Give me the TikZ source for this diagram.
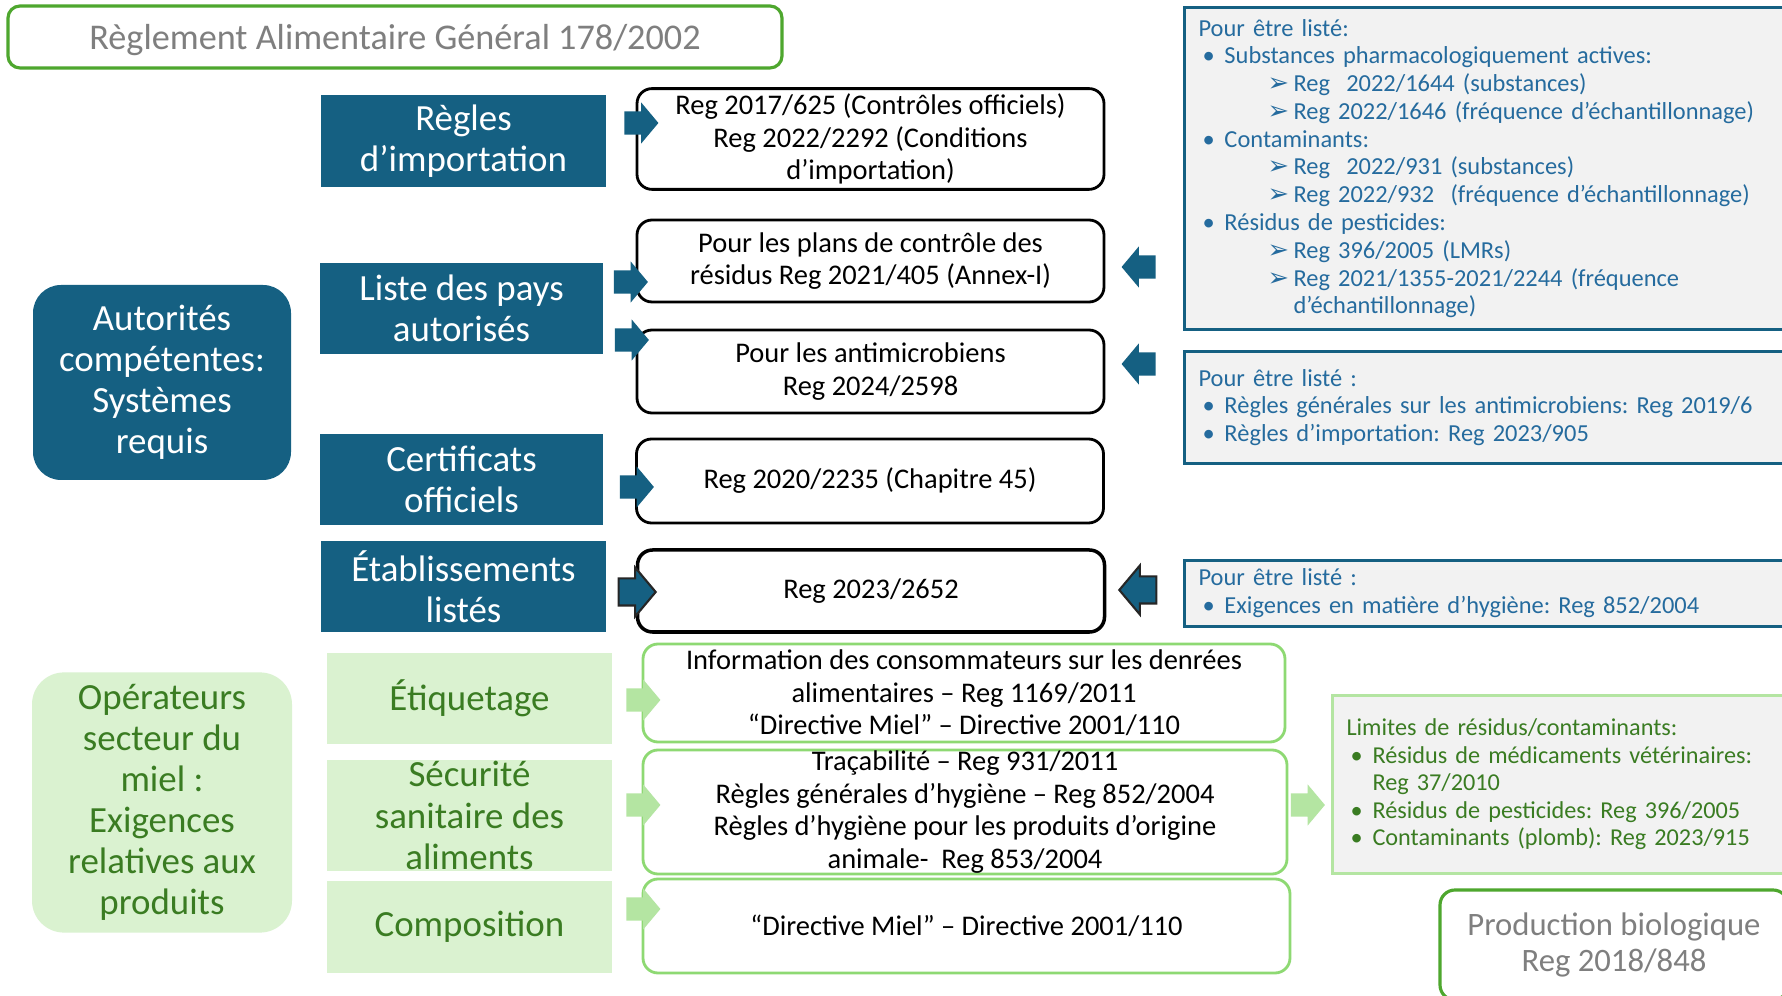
\documentclass[tikz,border=0pt]{standalone}
\usepackage{fontspec}
\setmainfont{Carlito}
\newfontfamily\symbfont{DejaVu Sans}
\usetikzlibrary{shapes.arrows}
\frenchspacing

\definecolor{bleufonce}{HTML}{156082}
\definecolor{bleutexte}{HTML}{256B9E}
\definecolor{vertfonce}{HTML}{3A7C22}
\definecolor{vertclair}{HTML}{DAF2D0}
\definecolor{vertbord}{HTML}{4EA72E}
\definecolor{vertmoyen}{HTML}{8ED973}
\definecolor{vertpale}{HTML}{B4E5A2}
\definecolor{grisfond}{HTML}{F2F2F2}
\definecolor{gristexte}{HTML}{7F7F7F}

% puces des listes
\newcommand{\puce}[1]{\hspace*{0.4mm}\makebox[2.2mm][l]{\textbullet}#1}
\newcommand{\souspuce}[1]{\hspace*{6.9mm}\makebox[2.6mm][l]{\symbfont\bfseries\fontsize{7.3}{7}\selectfont ➢}#1}
\newcommand{\suite}[1]{\hspace*{9.5mm}#1}
\newcommand{\retrait}[1]{\hspace*{2.6mm}#1}

\begin{document}
\begin{tikzpicture}[x=0.1mm,y=-0.1mm,
  titre/.style={draw=vertbord, line width=0.9pt, rounded corners=1.2mm, text=gristexte, text depth=0pt, font=\fontsize{10.3}{12}\selectfont},
  theme/.style={fill=bleufonce, text=white, align=center, minimum width=28.5mm, minimum height=9.1mm, inner ysep=0pt, font=\fontsize{10.5}{11.7}\selectfont},
  themevert/.style={theme, fill=vertclair, text=vertfonce},
  acteur/.style={rounded corners=2.8mm, align=center, minimum width=25.8mm, font=\fontsize{10.5}{11.7}\selectfont},
  regle/.style={draw=black, line width=0.8pt, rounded corners=1.5mm, fill=white, align=center, minimum width=46.7mm, inner ysep=0.5mm, font=\fontsize{8.1}{9.3}\selectfont},
  reglevert/.style={regle, draw=vertmoyen},
  liste/.style={draw=bleufonce, line width=0.85pt, fill=grisfond, text=bleutexte, anchor=north west, text width=60mm, inner xsep=1.4mm, align=left, font=\fontsize{6.95}{7.9}\selectfont},
  bio/.style={draw=vertbord, line width=0.9pt, rounded corners=1.5mm, fill=white, text=gristexte, align=center, font=\fontsize{9.3}{10}\selectfont},
  fleche/.style={single arrow, fill=bleufonce, inner xsep=0pt, inner ysep=1.1mm, minimum height=3.4mm, minimum width=4mm, single arrow head extend=0.9mm, single arrow tip angle=100},
  flechevert/.style={fleche, fill=vertpale},
  flechenoire/.style={fleche, draw=black!85, line width=0.6pt, inner ysep=1.25mm, minimum height=3.7mm, minimum width=4.7mm, single arrow head extend=1.1mm}
]
\path[use as bounding box, fill=white] (0,0) rectangle (1782,996);

%% cadre general
\node[titre, minimum width=77.4mm, minimum height=6.2mm] (general) at (395,37) {Règlement Alimentaire Général 178/2002};

%% autorites competentes
\node[acteur, fill=bleufonce, text=white, minimum height=19.5mm] (autorites) at (162,382.5) {Autorités\\compétentes:\\Systèmes\\requis};
\node[theme, minimum height=9.2mm] (importation) at (463.5,141) {Règles\\d’importation};
\node[theme, minimum width=28.3mm] (pays) at (461.5,308.5) {Liste des pays\\autorisés};
\node[theme, minimum width=28.3mm] (certificats) at (461.5,479.5) {Certificats\\officiels};
\node[theme] (etablissements) at (463.5,586.5) {Établissements\\listés};

\node[regle, minimum height=9.8mm] (r-importation) at (870.5,139) {Reg 2017/625 (Contrôles officiels)\\Reg 2022/2292 (Conditions\\d’importation)};
\node[regle, minimum height=8.2mm] (r-residus) at (870.5,261) {Pour les plans de contrôle des\\résidus Reg 2021/405 (Annex-I)};
\node[regle, minimum height=8.3mm] (r-antimicrobiens) at (870.5,371.5) {Pour les antimicrobiens\\Reg 2024/2598};
\node[regle, minimum height=8.4mm] (r-certificats) at (870,481) {Reg 2020/2235 (Chapitre 45)};
\node[regle, minimum height=8.2mm, line width=1pt] (r-etablissements) at (871,591) {Reg 2023/2652};

%% listes a droite
\node[liste, minimum height=32.1mm] (l-residus) at (1183,6) {Pour être listé:\\
\puce{Substances pharmacologiquement actives:}\\
\souspuce{Reg~~2022/1644 (substances)}\\
\souspuce{Reg 2022/1646 (fréquence d’échantillonnage)}\\
\puce{Contaminants:}\\
\souspuce{Reg~~2022/931 (substances)}\\
\souspuce{Reg 2022/932~~(fréquence d’échantillonnage)}\\
\puce{Résidus de pesticides:}\\
\souspuce{Reg 396/2005 (LMRs)}\\
\souspuce{Reg 2021/1355-2021/2244 (fréquence}\\
\suite{d’échantillonnage)}};
\node[liste, minimum height=11.2mm] (l-antimicrobiens) at (1183,350) {Pour être listé :\\
\puce{Règles générales sur les antimicrobiens: Reg 2019/6}\\
\puce{Règles d’importation: Reg 2023/905}};
\node[liste, minimum height=6.6mm, inner ysep=0.5mm] (l-hygiene) at (1183,559) {Pour être listé :\\
\puce{Exigences en matière d’hygiène: Reg 852/2004}};

%% operateurs
\node[acteur, fill=vertclair, text=vertfonce, minimum width=26mm, minimum height=25.5mm, rounded corners=3.2mm] (operateurs) at (162,802.5) {Opérateurs\\secteur du\\miel :\\Exigences\\relatives aux\\produits};
\node[themevert] (etiquetage) at (469.5,698.5) {Étiquetage};
\node[themevert, minimum height=11.1mm] (securite) at (469.5,815.5) {};
\node[text=vertfonce, align=center, font=\fontsize{10.5}{11.7}\selectfont] (securite-texte) at (securite) {Sécurité\\sanitaire des\\aliments};
\node[themevert, minimum height=9.2mm] (composition) at (469.5,927) {Composition};

\node[reglevert, minimum width=64.2mm, minimum height=9.8mm] (r-etiquetage) at (964,693) {Information des consommateurs sur les denrées\\alimentaires – Reg 1169/2011\\“Directive Miel” – Directive 2001/110};
\node[reglevert, minimum width=64.4mm, minimum height=12.4mm, inner ysep=0pt] (r-securite) at (965,812) {Traçabilité – Reg 931/2011\\Règles générales d’hygiène – Reg 852/2004\\Règles d’hygiène pour les produits d’origine\\animale-~ Reg 853/2004};
\node[reglevert, minimum width=64.7mm, minimum height=9.4mm] (r-composition) at (966.5,926) {“Directive Miel” – Directive 2001/110};

\node[liste, draw=vertpale, text=vertfonce, minimum height=17.8mm, font=\fontsize{6.9}{7.8}\selectfont] (limites) at (1331,694) {Limites de résidus/contaminants:\\
\puce{Résidus de médicaments vétérinaires:}\\
\retrait{Reg 37/2010}\\
\puce{Résidus de pesticides: Reg 396/2005}\\
\puce{Contaminants (plomb): Reg 2023/915}};
\node[bio, minimum width=34.8mm, minimum height=11mm] (biologique) at (1614,945) {Production biologique\\Reg 2018/848};

%% fleches
\node[fleche] (f-importation) at (636.5,123) {};
\node[fleche] (f-pays1) at (626,282) {};
\node[fleche] (f-pays2) at (627,340) {};
\node[fleche] (f-certificats) at (632,487) {};
\node[flechenoire] (f-etablissements) at (631.5,592) {};
\node[fleche, shape border rotate=180] (f-residus) at (1143.5,267) {};
\node[fleche, shape border rotate=180] (f-antimicrobiens) at (1143.5,364) {};
\node[flechenoire, shape border rotate=180] (f-hygiene) at (1143.5,590) {};
\node[flechevert] (f-etiquetage) at (638.5,700) {};
\node[flechevert] (f-securite) at (638.5,805) {};
\node[flechevert] (f-composition) at (638.5,909) {};
\node[flechevert] (f-limites) at (1303,805) {};
\end{tikzpicture}
\end{document}
